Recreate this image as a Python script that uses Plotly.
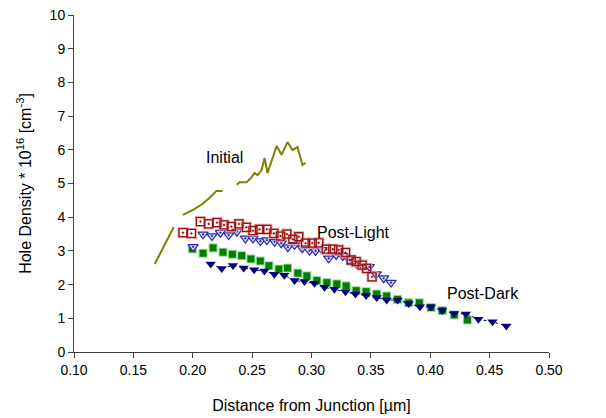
import plotly.graph_objects as go

# Initial (line, with gaps)
init_x = [0.168, 0.184, None, 0.1916, 0.200, 0.208, 0.214, 0.220, 0.225, None,
          0.237, 0.2395, 0.2454, 0.2496, 0.252, 0.2546, 0.258, 0.2605, 0.263, 0.267,
          0.2706, 0.2748, 0.2798, 0.284, 0.2882, 0.2924, 0.295]
init_y = [2.61, 3.71, None, 4.07, 4.21, 4.39, 4.57, 4.78, 4.78, None,
          4.96, 5.04, 5.04, 5.19, 5.31, 5.25, 5.40, 5.76, 5.31, 5.70,
          6.11, 5.85, 6.23, 5.99, 6.08, 5.55, 5.61]

# Post-Light (open squares)
pl_sq_x = [0.1918, 0.1989, 0.2065, 0.2134, 0.2204, 0.2263, 0.2325, 0.2389, 0.2451, 0.2507,
           0.2563, 0.2624, 0.2683, 0.2739, 0.2792, 0.2843, 0.2893, 0.2950, 0.3006, 0.3061,
           0.3124, 0.3179, 0.3229, 0.3286, 0.3334, 0.3376, 0.3426, 0.3465, 0.3510]
pl_sq_y = [3.54, 3.52, 3.87, 3.80, 3.84, 3.77, 3.72, 3.80, 3.70, 3.60,
           3.64, 3.64, 3.52, 3.44, 3.50, 3.34, 3.42, 3.23, 3.23, 3.24,
           3.05, 3.05, 3.03, 2.95, 2.73, 2.68, 2.58, 2.48, 2.23]

# Post-Light (open triangles)
pl_tr_x = [0.2003, 0.2087, 0.2162, 0.2233, 0.2303, 0.2372, 0.2443, 0.2507, 0.2569, 0.2624,
           0.2689, 0.2745, 0.2801, 0.2857, 0.2922, 0.2983, 0.3034, 0.3090, 0.3145, 0.3208,
           0.3263, 0.3319, 0.3376, 0.3431, 0.3487, 0.3544, 0.3608, 0.3670]
pl_tr_y = [3.12, 3.49, 3.44, 3.54, 3.47, 3.57, 3.37, 3.37, 3.29, 3.32,
           3.27, 3.23, 3.11, 3.18, 3.08, 3.01, 3.00, 3.03, 2.78, 2.88,
           2.85, 2.73, 2.63, 2.55, 2.53, 2.31, 2.19, 2.06]

# Post-Dark (filled squares)
pd_sq_x = [0.1997, 0.2087, 0.2171, 0.2255, 0.2334, 0.2412, 0.2490, 0.2569, 0.2641, 0.2725,
           0.2798, 0.2885, 0.2961, 0.3045, 0.3129, 0.3213, 0.3292, 0.3376, 0.3460, 0.3549,
           0.3633, 0.3725, 0.3818, 0.3908, 0.4006, 0.4101, 0.4202, 0.4313]
pd_sq_y = [3.06, 2.93, 3.09, 2.96, 2.90, 2.86, 2.76, 2.70, 2.56, 2.46,
           2.49, 2.34, 2.26, 2.12, 2.06, 2.02, 1.96, 1.82, 1.79, 1.72,
           1.66, 1.56, 1.46, 1.46, 1.32, 1.23, 1.10, 0.95]

# Post-Dark (filled triangles)
pd_tr_x = [0.2151, 0.2244, 0.2339, 0.2429, 0.2517, 0.2603, 0.2687, 0.2771, 0.2857, 0.2941,
           0.3025, 0.3109, 0.3193, 0.3286, 0.3370, 0.3460, 0.3549, 0.3633, 0.3725, 0.3818,
           0.3913, 0.4006, 0.4101, 0.4202, 0.4300, 0.4406, 0.4524, 0.4641]
pd_tr_y = [2.61, 2.48, 2.57, 2.49, 2.44, 2.40, 2.31, 2.28, 2.12, 2.09,
           2.04, 1.92, 1.86, 1.79, 1.72, 1.68, 1.62, 1.54, 1.54, 1.44,
           1.34, 1.34, 1.23, 1.14, 1.13, 0.97, 0.90, 0.77]

x_ticks = [0.10, 0.15, 0.20, 0.25, 0.30, 0.35, 0.40, 0.45, 0.50]
x_tick_text = ["0.10", "0.15", "0.20", "0.25", "0.30", "0.35", "0.40", "0.45", "0.50"]
y_ticks = list(range(0, 11))

label_text = ["Initial", "Post-Light", "Post-Dark"]
label_x = [0.2269, 0.3353, 0.4445]
label_y = [5.76, 3.56, 1.75]

fig = go.Figure()

fig.add_trace(go.Scatter(x=pd_sq_x, y=pd_sq_y, mode="markers",
                         marker=dict(symbol="square", size=9, color="#9FD89F"),
                         hoverinfo="skip", showlegend=False))
fig.add_trace(go.Scatter(x=pd_sq_x, y=pd_sq_y, mode="markers",
                         marker=dict(symbol="square", size=7, color="#008000"),
                         showlegend=False))
fig.add_trace(go.Scatter(x=pd_tr_x, y=pd_tr_y, mode="lines+markers",
                         line=dict(color="#000080", width=1, dash="dot"),
                         marker=dict(symbol="triangle-down", size=9, color="#000080"),
                         showlegend=False))
fig.add_trace(go.Scatter(x=pl_tr_x, y=pl_tr_y, mode="markers",
                         marker=dict(symbol="triangle-down-dot", size=9, color="#D6D6F5",
                                     line=dict(color="#2A2AB0", width=1.2)),
                         showlegend=False))
fig.add_trace(go.Scatter(x=pl_sq_x, y=pl_sq_y, mode="markers",
                         marker=dict(symbol="square-open", size=9, color="#E8A8A8",
                                     line=dict(width=2)),
                         hoverinfo="skip", showlegend=False))
fig.add_trace(go.Scatter(x=pl_sq_x, y=pl_sq_y, mode="markers",
                         marker=dict(symbol="square-open-dot", size=8, color="#9C1010",
                                     line=dict(width=1.3)),
                         showlegend=False))
fig.add_trace(go.Scatter(x=init_x, y=init_y, mode="lines",
                         line=dict(color="#808000", width=2),
                         connectgaps=False, showlegend=False))

font = dict(family="Liberation Sans, Arial, sans-serif", size=16, color="black")
for t, lx, ly in zip(label_text, label_x, label_y):
    fig.add_annotation(x=lx, y=ly, text=t, showarrow=False, font=font)

fig.update_layout(
    width=598, height=410,
    margin=dict(l=66, r=57, t=7, b=66),
    paper_bgcolor="white", plot_bgcolor="white",
    font=font,
    xaxis=dict(range=[0.10, 0.50], tickvals=x_ticks, ticktext=x_tick_text,
               showgrid=False, zeroline=False, showline=True, linecolor="#404040",
               linewidth=1, ticks="outside", ticklen=5, tickcolor="#404040",
               tickfont=dict(size=14), automargin=False, ticklabeloverflow="allow",
               title=dict(text="Distance from Junction [µm]", font=dict(size=16), standoff=23)),
    yaxis=dict(range=[0, 10], tickvals=y_ticks,
               showgrid=False, zeroline=False, showline=True, linecolor="#404040",
               linewidth=1, ticks="outside", ticklen=5, tickcolor="#404040",
               tickfont=dict(size=14), automargin=False, ticklabeloverflow="allow",
               title=dict(text="Hole Density * 10<sup>16</sup> [cm<sup>-3</sup>]",
                          font=dict(size=16), standoff=14)),
)

fig.write_html("out.html")
